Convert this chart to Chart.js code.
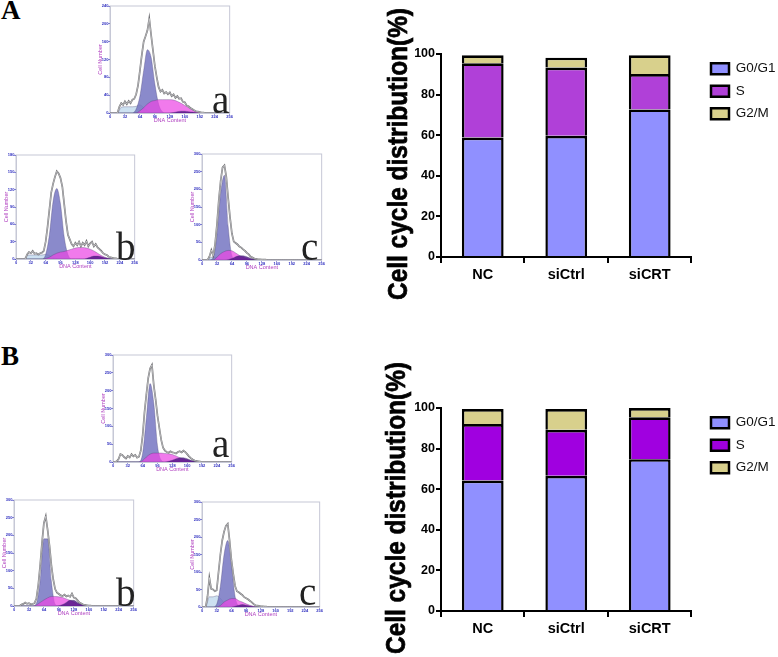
<!DOCTYPE html>
<html>
<head>
<meta charset="utf-8">
<script src="https://cdn.jsdelivr.net/npm/chart.js@4"></script>
<style>
  html, body { margin: 0; padding: 0; background: #fff; width: 778px; height: 657px; overflow: hidden; }
  canvas { position: absolute; }
  canvas.hist { filter: blur(0.35px); }
  .tag { position: absolute; font-family: "Liberation Serif", serif; line-height: 1; }
  .panel { font-weight: bold; font-size: 27px; color: #000; }
  .sample { font-size: 39px; color: #222; }
</style>
</head>
<body>
<canvas id="histAa" class="hist"></canvas>
<canvas id="histAb" class="hist"></canvas>
<canvas id="histAc" class="hist"></canvas>
<canvas id="histBa" class="hist"></canvas>
<canvas id="histBb" class="hist"></canvas>
<canvas id="histBc" class="hist"></canvas>
<canvas id="barsA"></canvas>
<canvas id="barsB"></canvas>
<div class="tag panel" style="left:1px;top:-3px">A</div>
<div class="tag panel" style="left:1px;top:343px">B</div>
<div class="tag sample" style="left:212px;top:80px">a</div>
<div class="tag sample" style="left:116px;top:227px">b</div>
<div class="tag sample" style="left:301px;top:227px">c</div>
<div class="tag sample" style="left:212px;top:424px">a</div>
<div class="tag sample" style="left:116px;top:573px">b</div>
<div class="tag sample" style="left:299px;top:572px">c</div>
<script>
// ─── BAR DATA ─────────────────────────────────────────────────────────────────
const groups = ['NC', 'siCtrl', 'siCRT'];
const phases = ['G0/G1', 'S', 'G2/M'];
const yTitle = 'Cell cycle distribution(%)';

const g1A = [58.9, 59.7, 72.7];
const sA = [36.5, 33.6, 17.4];
const g2A = [4, 4.9, 9.3];

const g1B = [64.3, 66.6, 74.8];
const sB = [27.8, 22.7, 20.6];
const g2B = [7.4, 10.2, 4.6];

// ─── HISTOGRAM DATA ───────────────────────────────────────────────────────────
const binsFine = [0, 4, 8, 12, 16, 20, 24, 28, 32, 36, 40, 44, 48, 52, 56, 60, 64, 68, 72, 76, 80, 84, 88, 92, 96, 100, 104, 108, 112, 116, 120, 124, 128, 132, 136, 140, 144, 148, 152, 156, 160, 164, 168, 172, 176, 180, 184, 188, 192, 196, 200, 204, 208, 212, 216, 220, 224, 228, 232, 236, 240, 244, 248, 252, 256];
const binsFit = [0, 8, 16, 24, 32, 40, 48, 56, 64, 72, 80, 88, 96, 104, 112, 120, 128, 136, 144, 152, 160, 168, 176, 184, 192, 200, 208, 216, 224, 232, 240, 248, 256];

const rawAa = [0, 0, 0, 0, 0, 14, 22, 18, 26, 20, 27, 22, 30, 32, 42, 62, 95, 130, 160, 172, 185, 212, 175, 140, 105, 80, 58, 48, 52, 44, 47, 42, 46, 38, 42, 34, 38, 32, 33, 25, 24, 17, 15, 11, 9, 6, 4, 3, 2, 1, 1, 0, 0, 0, 0, 0, 0, 0, 0, 0, 0, 0, 0, 0, 0];
const debrisAa = [0, 0, 0, 13, 14, 14, 14, 15, 18, 12, 5, 1, 0, 0, 0, 0, 0, 0, 0, 0, 0, 0, 0, 0, 0, 0, 0, 0, 0, 0, 0, 0, 0];
const fitG1Aa = [0, 0, 0, 0, 0, 0, 0, 9, 38, 95, 142, 125, 65, 20, 3, 0, 0, 0, 0, 0, 0, 0, 0, 0, 0, 0, 0, 0, 0, 0, 0, 0, 0];
const fitSAa = [0, 0, 0, 0, 0, 0, 0, 0, 5, 12, 20, 26, 28, 30, 30, 30, 30, 29, 26, 22, 17, 12, 7, 4, 2, 0, 0, 0, 0, 0, 0, 0, 0];
const fitG2Aa = [0, 0, 0, 0, 0, 0, 0, 0, 0, 0, 0, 0, 0, 0, 0, 0, 0, 1, 3, 4, 4, 3, 2, 1, 0, 0, 0, 0, 0, 0, 0, 0, 0];

const rawAb = [0, 0, 0, 0, 0, 0, 8, 12, 10, 14, 9, 10, 8, 10, 11, 14, 30, 55, 85, 115, 130, 142, 152, 148, 140, 125, 95, 65, 42, 34, 26, 22, 28, 24, 30, 22, 28, 24, 31, 22, 27, 30, 22, 26, 20, 17, 14, 10, 8, 7, 4, 3, 2, 1, 1, 0, 0, 0, 0, 0, 0, 0, 0, 0, 0];
const debrisAb = [0, 0, 0, 6, 7, 7, 7, 7, 8, 6, 3, 1, 0, 0, 0, 0, 0, 0, 0, 0, 0, 0, 0, 0, 0, 0, 0, 0, 0, 0, 0, 0, 0];
const fitG1Ab = [0, 0, 0, 0, 0, 0, 0, 0, 8, 42, 100, 122, 95, 38, 8, 0, 0, 0, 0, 0, 0, 0, 0, 0, 0, 0, 0, 0, 0, 0, 0, 0, 0];
const fitSAb = [0, 0, 0, 0, 0, 0, 0, 0, 1, 3, 7, 10, 12, 13, 15, 17, 19, 20, 20, 19, 17, 14, 10, 6, 3, 1, 0, 0, 0, 0, 0, 0, 0];
const fitG2Ab = [0, 0, 0, 0, 0, 0, 0, 0, 0, 0, 0, 0, 0, 0, 0, 0, 0, 0, 0, 1, 3, 5, 5, 4, 2, 1, 0, 0, 0, 0, 0, 0, 0];

const rawAc = [0, 0, 0, 0, 10, 28, 12, 45, 100, 170, 225, 262, 268, 235, 175, 120, 75, 52, 48, 44, 38, 35, 30, 26, 20, 16, 10, 7, 4, 3, 2, 2, 1, 1, 1, 0, 0, 0, 0, 0, 0, 0, 0, 0, 0, 0, 0, 0, 0, 0, 0, 0, 0, 0, 0, 0, 0, 0, 0, 0, 0, 0, 0, 0, 0];
const debrisAc = [0, 0, 6, 8, 6, 2, 0, 0, 0, 0, 0, 0, 0, 0, 0, 0, 0, 0, 0, 0, 0, 0, 0, 0, 0, 0, 0, 0, 0, 0, 0, 0, 0];
const fitG1Ac = [0, 0, 0, 8, 70, 190, 240, 95, 12, 0, 0, 0, 0, 0, 0, 0, 0, 0, 0, 0, 0, 0, 0, 0, 0, 0, 0, 0, 0, 0, 0, 0, 0];
const fitSAc = [0, 0, 0, 0, 8, 18, 24, 27, 26, 20, 13, 8, 4, 1, 0, 0, 0, 0, 0, 0, 0, 0, 0, 0, 0, 0, 0, 0, 0, 0, 0, 0, 0];
const fitG2Ac = [0, 0, 0, 0, 0, 0, 0, 1, 4, 9, 12, 12, 9, 5, 2, 0, 0, 0, 0, 0, 0, 0, 0, 0, 0, 0, 0, 0, 0, 0, 0, 0, 0];

const rawBa = [0, 0, 2, 8, 22, 20, 14, 10, 17, 13, 22, 16, 20, 12, 15, 32, 75, 140, 190, 235, 262, 272, 215, 175, 130, 95, 62, 40, 32, 28, 26, 30, 27, 26, 24, 28, 30, 27, 32, 28, 22, 16, 11, 7, 4, 3, 2, 1, 0, 0, 0, 0, 0, 0, 0, 0, 0, 0, 0, 0, 0, 0, 0, 0, 0];
const debrisBa = [0, 0, 0, 0, 0, 0, 0, 0, 0, 0, 0, 0, 0, 0, 0, 0, 0, 0, 0, 0, 0, 0, 0, 0, 0, 0, 0, 0, 0, 0, 0, 0, 0];
const fitG1Ba = [0, 0, 0, 0, 0, 0, 0, 0, 25, 125, 220, 165, 45, 5, 0, 0, 0, 0, 0, 0, 0, 0, 0, 0, 0, 0, 0, 0, 0, 0, 0, 0, 0];
const fitSBa = [0, 0, 0, 0, 0, 0, 0, 0, 4, 14, 22, 25, 25, 25, 24, 23, 21, 17, 12, 8, 5, 3, 1, 0, 0, 0, 0, 0, 0, 0, 0, 0, 0];
const fitG2Ba = [0, 0, 0, 0, 0, 0, 0, 0, 0, 0, 0, 0, 0, 0, 0, 2, 5, 9, 12, 12, 9, 5, 2, 0, 0, 0, 0, 0, 0, 0, 0, 0, 0];

const rawBb = [0, 0, 0, 0, 4, 6, 10, 6, 8, 5, 6, 8, 22, 60, 115, 180, 235, 254, 215, 170, 115, 75, 48, 38, 34, 30, 28, 32, 27, 30, 26, 35, 24, 22, 16, 10, 7, 4, 3, 2, 1, 1, 0, 0, 0, 0, 0, 0, 0, 0, 0, 0, 0, 0, 0, 0, 0, 0, 0, 0, 0, 0, 0, 0, 0];
const debrisBb = [0, 0, 0, 0, 0, 0, 0, 0, 0, 0, 0, 0, 0, 0, 0, 0, 0, 0, 0, 0, 0, 0, 0, 0, 0, 0, 0, 0, 0, 0, 0, 0, 0];
const fitG1Bb = [0, 0, 0, 0, 0, 0, 8, 72, 190, 190, 70, 5, 0, 0, 0, 0, 0, 0, 0, 0, 0, 0, 0, 0, 0, 0, 0, 0, 0, 0, 0, 0, 0];
const fitSBb = [0, 0, 0, 0, 0, 0, 3, 10, 17, 23, 27, 27, 26, 24, 20, 16, 11, 6, 3, 1, 0, 0, 0, 0, 0, 0, 0, 0, 0, 0, 0, 0, 0];
const fitG2Bb = [0, 0, 0, 0, 0, 0, 0, 0, 0, 0, 0, 0, 1, 4, 10, 16, 16, 10, 5, 2, 0, 0, 0, 0, 0, 0, 0, 0, 0, 0, 0, 0, 0];

const rawBc = [0, 0, 0, 30, 84, 52, 50, 45, 48, 100, 150, 190, 215, 232, 238, 190, 135, 95, 60, 45, 42, 38, 34, 28, 25, 22, 18, 14, 9, 5, 4, 3, 2, 2, 1, 1, 0, 0, 0, 0, 0, 0, 0, 0, 0, 0, 0, 0, 0, 0, 0, 0, 0, 0, 0, 0, 0, 0, 0, 0, 0, 0, 0, 0, 0];
const debrisBc = [0, 0, 29, 29, 32, 25, 12, 3, 0, 0, 0, 0, 0, 0, 0, 0, 0, 0, 0, 0, 0, 0, 0, 0, 0, 0, 0, 0, 0, 0, 0, 0, 0];
const fitG1Bc = [0, 0, 0, 0, 8, 60, 150, 190, 120, 30, 3, 0, 0, 0, 0, 0, 0, 0, 0, 0, 0, 0, 0, 0, 0, 0, 0, 0, 0, 0, 0, 0, 0];
const fitSBc = [0, 0, 0, 0, 0, 4, 14, 20, 24, 24, 18, 14, 9, 5, 2, 0, 0, 0, 0, 0, 0, 0, 0, 0, 0, 0, 0, 0, 0, 0, 0, 0, 0];
const fitG2Bc = [0, 0, 0, 0, 0, 0, 0, 0, 0, 2, 5, 7, 5, 3, 1, 0, 0, 0, 0, 0, 0, 0, 0, 0, 0, 0, 0, 0, 0, 0, 0, 0, 0];

const xTicks = 32;

// ─── CHART HELPERS ────────────────────────────────────────────────────────────

function place(id, left, top, width, height) {
  const canvas = document.getElementById(id);
  canvas.width = width;
  canvas.height = height;
  canvas.style.left = left + 'px';
  canvas.style.top = top + 'px';
  canvas.style.width = width + 'px';
  canvas.style.height = height + 'px';
  return canvas;
}

function toPoints(bins, values) {
  return values.map((y, i) => ({ x: bins[i], y }));
}

function fitSet(values, color) {
  return {
    data: toPoints(binsFit, values),
    borderColor: 'rgba(70,60,110,0.55)',
    borderWidth: 0.6,
    backgroundColor: color,
    fill: 'origin',
    pointRadius: 0,
    cubicInterpolationMode: 'monotone'
  };
}

function rawSet(values, color, width) {
  return {
    data: toPoints(binsFine, values),
    borderColor: color,
    borderWidth: width,
    fill: false,
    pointRadius: 0,
    tension: 0
  };
}

// plot = [left, top, right, bottom] on the page
function histogram(id, plot, yMax, raw, debris, fitG1, fitS, fitG2) {
  const marginLeft = 13, marginTop = 4, marginRight = 3, marginBottom = 11;
  const [left, top, right, bottom] = plot;
  const canvas = place(id, left - marginLeft, top - marginTop,
    right - left + marginLeft + marginRight, bottom - top + marginTop + marginBottom);

  const frame = {
    id: 'frame',
    beforeDatasetsDraw(chart) {
      const a = chart.chartArea, ctx = chart.ctx;
      ctx.save();
      ctx.strokeStyle = '#c6c8d6';
      ctx.lineWidth = 1;
      ctx.strokeRect(a.left, a.top, a.right - a.left, a.bottom - a.top);
      ctx.restore();
    }
  };

  const tickFont = { size: 4, family: 'Liberation Sans', weight: 'bold' };
  const titleFont = { size: 5.5, family: 'Liberation Sans' };

  new Chart(canvas, {
    type: 'line',
    data: {
      datasets: [
        rawSet(raw, 'rgba(255,255,255,0.8)', 0.6),
        rawSet(raw, '#707074', 1.7),
        fitSet(fitG2, 'rgba(75,15,130,0.8)'),
        fitSet(fitS, 'rgba(236,70,228,0.72)'),
        fitSet(fitG1, 'rgba(118,118,194,0.85)'),
        fitSet(debris, 'rgba(200,222,240,0.9)')
      ]
    },
    options: {
      responsive: false,
      animation: false,
      layout: { padding: { top: marginTop, right: marginRight, left: 0, bottom: 0 } },
      plugins: { legend: { display: false }, tooltip: { enabled: false } },
      scales: {
        x: {
          type: 'linear', min: 0, max: 256,
          afterFit: s => { s.height = marginBottom; },
          grid: { drawOnChartArea: false, color: '#3030c0', tickLength: 1.5 },
          border: { color: '#c6c8d6' },
          ticks: { stepSize: xTicks, color: '#3030c0', font: tickFont, padding: 0, maxRotation: 0, autoSkip: false },
          title: { display: true, text: 'DNA Content', color: '#b040c0', font: titleFont, padding: 0 }
        },
        y: {
          min: 0, max: yMax,
          afterFit: s => { s.width = marginLeft; },
          grid: { drawOnChartArea: false, color: '#3030c0', tickLength: 1.5 },
          border: { color: '#c6c8d6' },
          ticks: { stepSize: yMax / 6, color: '#3030c0', font: tickFont, padding: 0 },
          title: { display: true, text: 'Cell Number', color: '#b040c0', font: titleFont, padding: 0 }
        }
      }
    },
    plugins: [frame]
  });
}

// plot = [left, top, right, bottom] on the page; the canvas starts at x = 380
function stacked(id, canvasTop, canvasHeight, plot, titleBase, titleMid, g1, s, g2, sColor) {
  const [left, top, right, bottom] = plot;
  const canvas = place(id, 380, canvasTop, 398, canvasHeight);

  const bar = (label, data, color) => ({
    label, data, backgroundColor: color, borderColor: '#000',
    borderWidth: { top: 2.7, left: 2.5, right: 2.5, bottom: 0 },
    borderSkipped: false,
    barPercentage: 0.5, categoryPercentage: 1
  });

  const helpers = {
    id: 'helpers',
    afterLayout(chart) {
      // keep the legend where the reference has it, past the end of the axis
      const l = chart.legend;
      const dx = 322 - l.left;
      l.left += dx;
      l.right += dx;
      l.top -= 1;
      l.bottom -= 1;
    },
    afterDraw(chart) {
      const ctx = chart.ctx;
      ctx.save();
      ctx.translate(titleBase, titleMid - canvasTop);
      ctx.rotate(-Math.PI / 2);
      ctx.font = 'bold 27px "Liberation Sans"';
      const width = ctx.measureText(yTitle).width;
      ctx.scale(292 / width, 1);
      ctx.fillStyle = '#000';
      ctx.strokeStyle = '#000';
      ctx.lineWidth = 0.7;
      ctx.textAlign = 'center';
      ctx.textBaseline = 'alphabetic';
      ctx.fillText(yTitle, 0, 0);
      ctx.strokeText(yTitle, 0, 0);
      ctx.restore();
    }
  };

  new Chart(canvas, {
    type: 'bar',
    data: {
      labels: groups,
      datasets: [
        bar(phases[0], g1, '#9090ff'),
        bar(phases[1], s, sColor),
        bar(phases[2], g2, '#d8d08c')
      ]
    },
    options: {
      responsive: false,
      animation: false,
      layout: { padding: { top: top - canvasTop, right: 3, left: 0, bottom: 0 } },
      plugins: {
        tooltip: { enabled: false },
        legend: {
          position: 'right',
          align: 'start',
          labels: {
            boxWidth: 18, boxHeight: 11, padding: 9, color: '#111',
            font: { size: 13.5, family: 'Liberation Sans' },
            generateLabels(chart) {
              return Chart.defaults.plugins.legend.labels.generateLabels(chart).map(item => ({ ...item, lineWidth: 2.5 }));
            }
          }
        }
      },
      scales: {
        x: {
          stacked: true,
          afterFit: s => { s.height = canvasTop + canvasHeight - bottom; },
          border: { color: '#000', width: 2 },
          grid: { drawOnChartArea: false, color: '#000', lineWidth: 2, tickLength: 6 },
          ticks: { color: '#000', padding: 3, font: { size: 14.5, weight: 'bold', family: 'Liberation Sans' } }
        },
        y: {
          stacked: true, min: 0, max: 100,
          afterFit: s => { s.width = left - 380; },
          border: { color: '#000', width: 2 },
          grid: { drawOnChartArea: false, color: '#000', lineWidth: 2, tickLength: 5 },
          ticks: { stepSize: 20, color: '#000', padding: 1, font: { size: 12.5, weight: 'bold', family: 'Liberation Sans' } }
        }
      }
    },
    plugins: [helpers]
  });
}

// ─── PAGE ─────────────────────────────────────────────────────────────────────

histogram('histAa', [110, 6, 230, 113], 240, rawAa, debrisAa, fitG1Aa, fitSAa, fitG2Aa);
histogram('histAb', [16, 155, 135, 259], 180, rawAb, debrisAb, fitG1Ab, fitSAb, fitG2Ab);
histogram('histAc', [202, 154, 322, 260], 300, rawAc, debrisAc, fitG1Ac, fitSAc, fitG2Ac);
histogram('histBa', [113, 355, 232, 462], 300, rawBa, debrisBa, fitG1Ba, fitSBa, fitG2Ba);
histogram('histBb', [14, 500, 134, 606], 300, rawBb, debrisBb, fitG1Bb, fitSBb, fitG2Bb);
histogram('histBc', [202, 502, 320, 607], 300, rawBc, debrisBc, fitG1Bc, fitSBc, fitG2Bc);

stacked('barsA', 0, 328, [441, 54, 693, 257], 27, 154, g1A, sA, g2A, '#b040d8');
stacked('barsB', 328, 329, [441, 408, 693, 611], 25, 508, g1B, sB, g2B, '#a000e0');
</script>
</body>
</html>
